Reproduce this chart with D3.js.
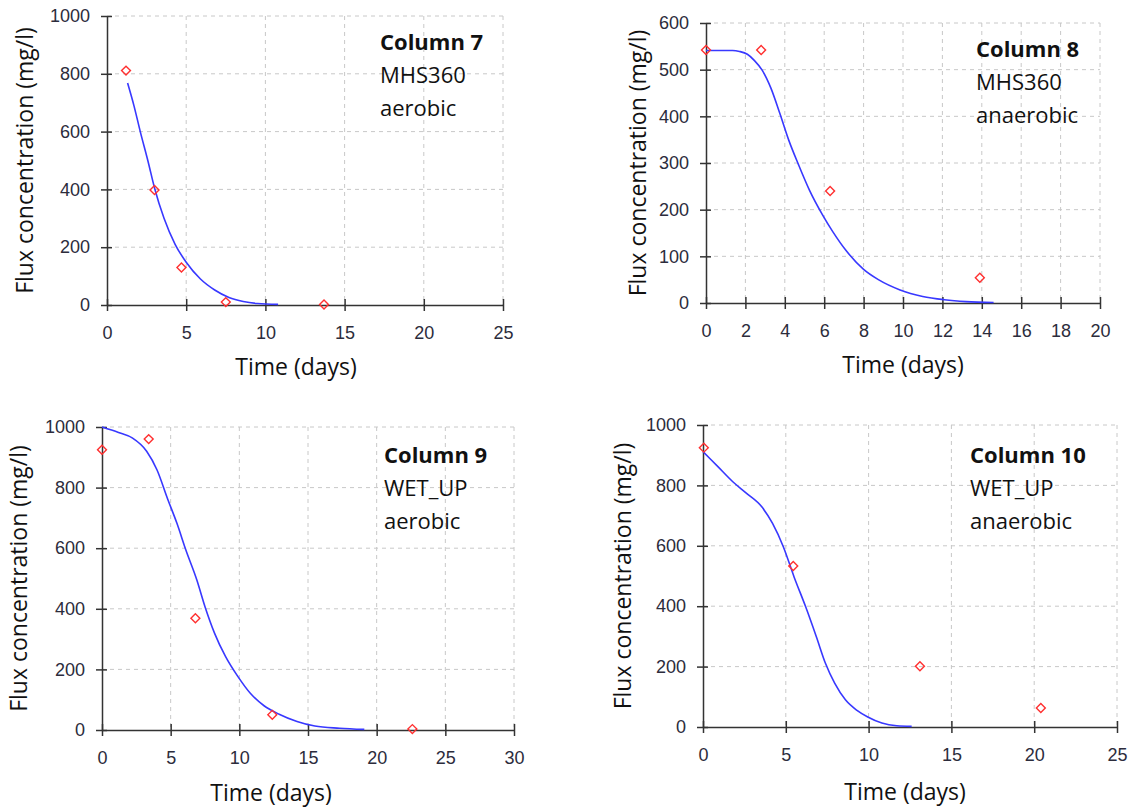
<!DOCTYPE html>
<html>
<head>
<meta charset="utf-8">
<script src="https://cdn.jsdelivr.net/npm/d3@7"></script>
<style>
body { margin: 0; background: #fff; }
.tick text { font-family: "Liberation Sans", Arial, sans-serif; font-size: 18px; fill: #2c2c3c; }
.lbl { font-family: "Open Sans", sans-serif; font-size: 22px; fill: #111; }
.ttl { font-family: "Open Sans", sans-serif; font-size: 23px; fill: #111; }
</style>
</head>
<body>
<svg id="chart" width="1135" height="809"></svg>
<script>

var col7ObsT = [1.2, 3.0, 4.7, 7.5, 13.7],
    col7ObsC = [811, 398, 130, 10, 2],
    col7FitT = [1.3, 1.7, 2.1, 2.6, 3.0, 3.6, 4.3, 5.0, 5.9, 6.8, 7.7, 8.6, 9.5, 10.8],
    col7FitC = [768, 690, 600, 495, 405, 300, 210, 148, 90, 52, 26, 12, 5, 2];

var col8ObsT = [0, 2.8, 6.3, 13.9],
    col8ObsC = [542, 542, 240, 54],
    col8FitT = [0, 1.35, 1.7, 2.1, 2.45, 2.85, 3.3, 3.75, 4.2, 4.7, 5.25, 5.9, 6.45, 7.1, 8.0, 8.75, 9.85, 11.0, 12.1, 13.2, 14.6],
    col8FitC = [541, 541, 539, 533, 520, 499, 460, 406, 349, 296, 242, 190, 152, 113, 72, 50, 28, 14, 7, 3, 1];

var col9ObsT = [0, 3.4, 6.8, 12.4, 22.6],
    col9ObsC = [925, 960, 369, 50, 3],
    col9FitT = [0, 1.2, 2.2, 3.25, 4.0, 4.8, 5.45, 6.1, 6.9, 7.5, 8.2, 9.0, 9.9, 10.8, 11.8, 12.9, 14.2, 15.5, 17.3, 19.1],
    col9FitC = [1000, 982, 964, 920, 859, 760, 683, 595, 496, 407, 319, 242, 176, 121, 80, 52, 28, 13, 6, 2];

var col10ObsT = [0.05, 5.45, 13.1, 20.4],
    col10ObsC = [925, 533, 201, 63],
    col10FitT = [0, 0.9, 1.8, 2.65, 3.55, 4.2, 4.85, 5.5, 6.2, 6.85, 7.4, 7.95, 8.6, 9.3, 9.95, 10.8, 11.7, 12.6],
    col10FitC = [912, 862, 812, 773, 729, 674, 597, 497, 398, 298, 210, 145, 90, 55, 33, 13, 4, 2];

var xTicks25 = [0, 5, 10, 15, 20, 25],
    xTicks20 = [0, 2, 4, 6, 8, 10, 12, 14, 16, 18, 20],
    xTicks30 = [0, 5, 10, 15, 20, 25, 30],
    yTicks1000 = [0, 200, 400, 600, 800, 1000],
    yTicks600 = [0, 100, 200, 300, 400, 500, 600];

var svg = d3.select("#chart");

var panels = [
  { obsT: col7ObsT, obsC: col7ObsC, fitT: col7FitT, fitC: col7FitC, xTicks: xTicks25, yTicks: yTicks1000,
    left: 107, right: 503, top: 16, bottom: 305, annX: 380, annY: 50, xtX: 296, xtY: 375, ytX: 33,
    lines: ["Column 7", "MHS360", "aerobic"] },
  { obsT: col8ObsT, obsC: col8ObsC, fitT: col8FitT, fitC: col8FitC, xTicks: xTicks20, yTicks: yTicks600,
    left: 706, right: 1100, top: 23, bottom: 303, annX: 976, annY: 57, xtX: 903, xtY: 373, ytX: 646,
    lines: ["Column 8", "MHS360", "anaerobic"] },
  { obsT: col9ObsT, obsC: col9ObsC, fitT: col9FitT, fitC: col9FitC, xTicks: xTicks30, yTicks: yTicks1000,
    left: 102, right: 514, top: 427, bottom: 730, annX: 384, annY: 463, xtX: 271, xtY: 801, ytX: 27,
    lines: ["Column 9", "WET_UP", "aerobic"] },
  { obsT: col10ObsT, obsC: col10ObsC, fitT: col10FitT, fitC: col10FitC, xTicks: xTicks25, yTicks: yTicks1000,
    left: 703, right: 1117, top: 425, bottom: 727, annX: 970, annY: 463, xtX: 905, xtY: 800, ytX: 631,
    lines: ["Column 10", "WET_UP", "anaerobic"] }
];

panels.forEach(drawPanel);

function drawPanel(p) {
  var g = svg.append("g");
  var xMax = p.xTicks[p.xTicks.length - 1],
      yMax = p.yTicks[p.yTicks.length - 1];
  var x = d3.scaleLinear().domain([0, xMax]).range([p.left, p.right]);
  var y = d3.scaleLinear().domain([0, yMax]).range([p.bottom, p.top]);

  // dashed grid
  g.selectAll(".vgrid").data(p.xTicks.slice(1)).enter().append("line")
    .attr("x1", function(d) { return x(d); }).attr("x2", function(d) { return x(d); })
    .attr("y1", y(yMax)).attr("y2", y(0))
    .attr("stroke", "#c8c8c8").attr("stroke-dasharray", "4,4");
  g.selectAll(".hgrid").data(p.yTicks.slice(1)).enter().append("line")
    .attr("x1", x(0)).attr("x2", x(xMax))
    .attr("y1", function(d) { return y(d); }).attr("y2", function(d) { return y(d); })
    .attr("stroke", "#c8c8c8").attr("stroke-dasharray", "4,4");

  // axes, ticks cross the line
  var xa = g.append("g").attr("transform", "translate(0," + y(0) + ")")
    .call(d3.axisBottom(x).tickValues(p.xTicks).tickFormat(d3.format("d"))
      .tickSize(6).tickSizeOuter(0).tickPadding(15));
  xa.selectAll(".tick line").attr("y1", -6);
  var ya = g.append("g").attr("transform", "translate(" + x(0) + ",0)")
    .call(d3.axisLeft(y).tickValues(p.yTicks).tickFormat(d3.format("d"))
      .tickSize(6).tickSizeOuter(0).tickPadding(11));
  ya.selectAll(".tick line").attr("x1", 5);
  g.selectAll(".domain, .tick line").attr("stroke", "#333").attr("stroke-width", 1.5);

  // fit curve
  var fit = p.fitT.map(function(t, i) { return [t, p.fitC[i]]; });
  g.append("path").datum(fit)
    .attr("d", d3.line().x(function(d) { return x(d[0]); }).y(function(d) { return y(d[1]); }).curve(d3.curveMonotoneX))
    .attr("fill", "none").attr("stroke", "#3838ff").attr("stroke-width", 1.6);

  // observations
  var obs = p.obsT.map(function(t, i) { return [t, p.obsC[i]]; });
  g.selectAll(".pt").data(obs).enter().append("path")
    .attr("d", d3.symbol(d3.symbolSquare, 40))
    .attr("transform", function(d) { return "translate(" + x(d[0]) + "," + y(d[1]) + ") rotate(45)"; })
    .attr("fill", "none").attr("stroke", "#ff3030").attr("stroke-width", 1.4);

  // titles
  g.append("text").attr("class", "ttl").attr("x", p.xtX).attr("y", p.xtY)
    .attr("text-anchor", "middle").text("Time (days)");
  g.append("text").attr("class", "ttl")
    .attr("transform", "translate(" + p.ytX + "," + (p.top + p.bottom) / 2 + ") rotate(-90)")
    .attr("text-anchor", "middle").text("Flux concentration (mg/l)");

  var ann = g.append("text").attr("class", "lbl");
  p.lines.forEach(function(s, i) {
    ann.append("tspan").attr("x", p.annX).attr("y", p.annY + i * 33)
      .attr("font-weight", i == 0 ? "bold" : "normal").text(s);
  });
}
</script>
</body>
</html>
